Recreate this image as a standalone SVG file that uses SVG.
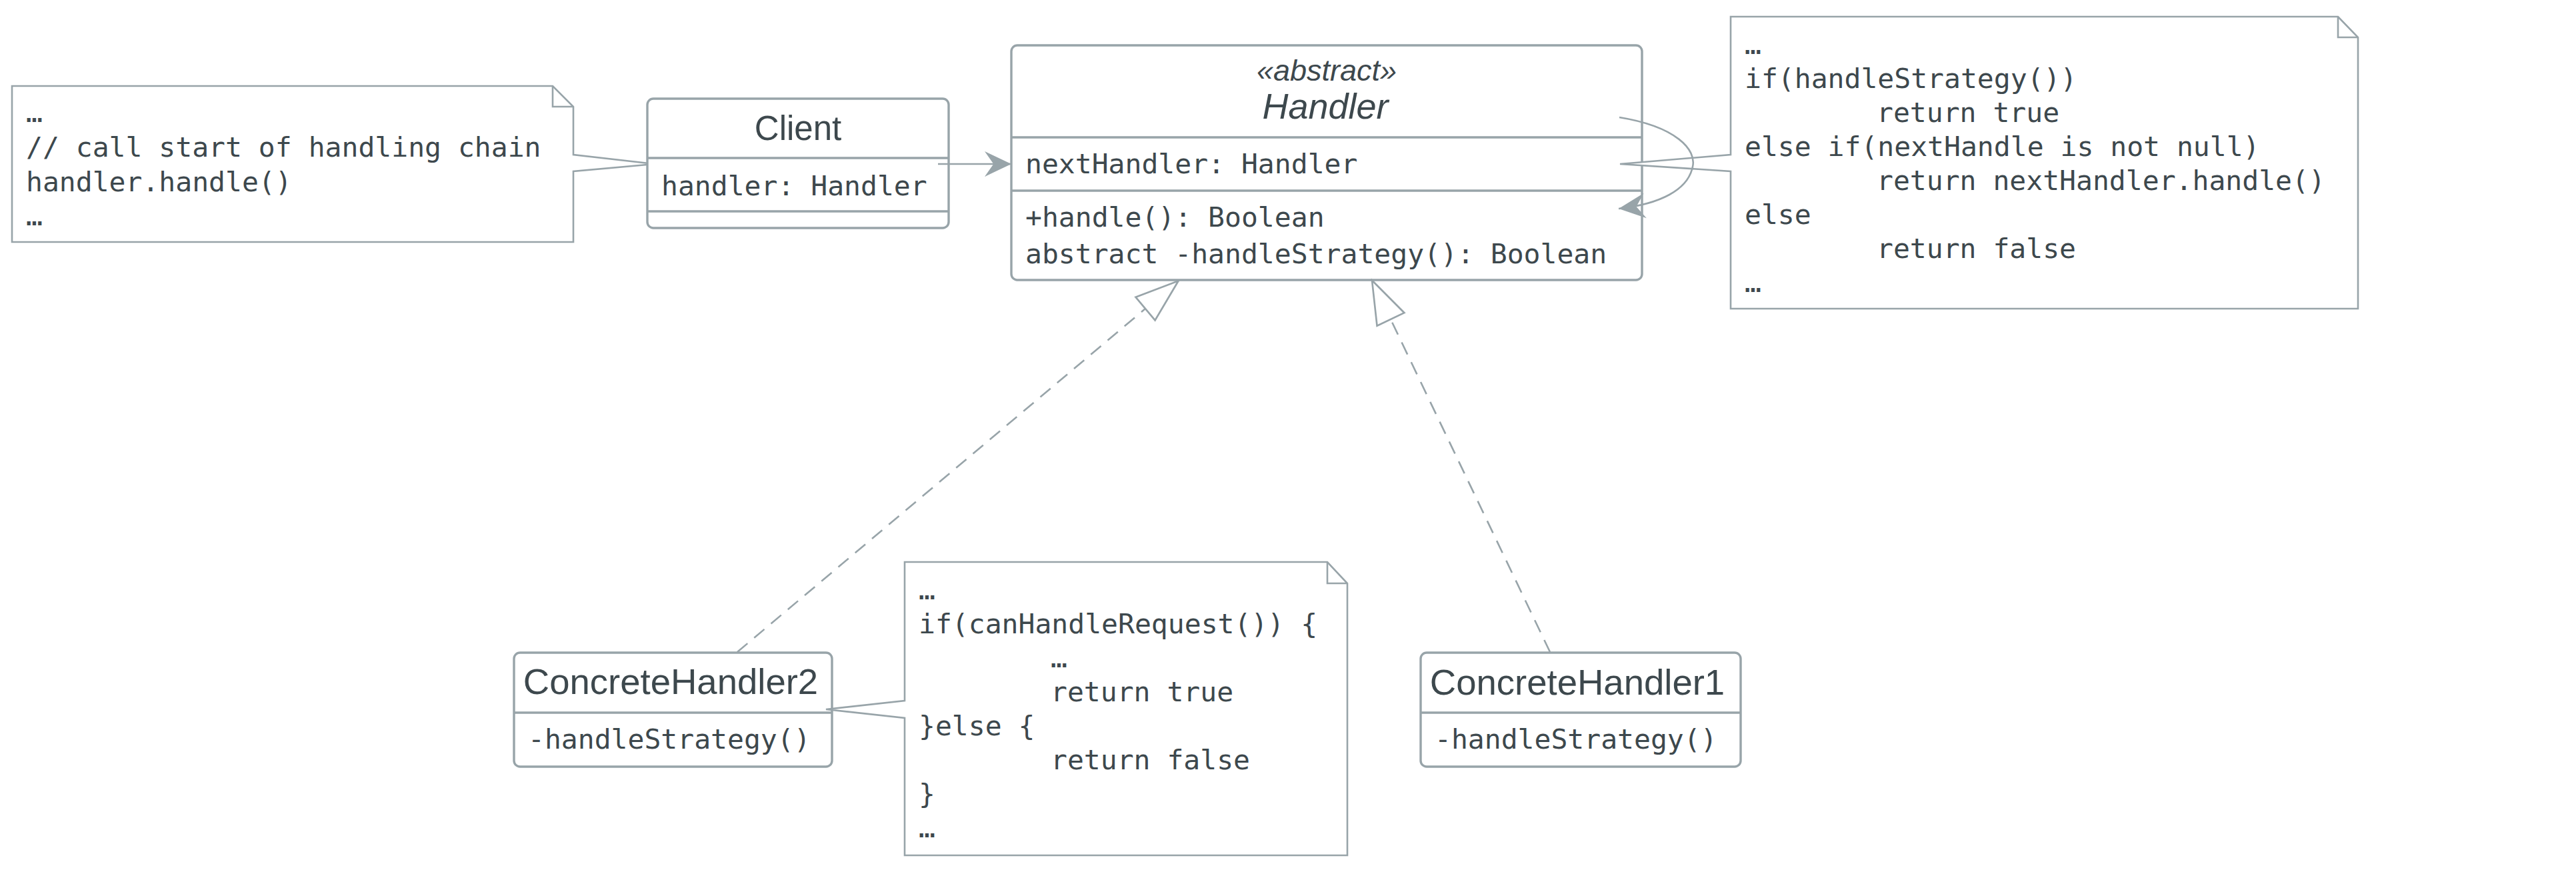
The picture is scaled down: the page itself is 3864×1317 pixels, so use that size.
<svg xmlns="http://www.w3.org/2000/svg" width="3864" height="1317" viewBox="0 0 3864 1317">
<style>
.box{fill:#ffffff;stroke:#98a4a9;stroke-width:3.4}
.div{stroke:#98a4a9;stroke-width:3.4;fill:none}
.note{fill:#ffffff;stroke:#98a4a9;stroke-width:2.6;stroke-linejoin:miter}
.fold{fill:none;stroke:#98a4a9;stroke-width:2.6}
.conn{fill:none;stroke:#98a4a9;stroke-width:2.6}
.dash{stroke-dasharray:20 13}
.mono{font-family:"DejaVu Sans Mono","Liberation Mono",monospace;font-size:41.4px;fill:#3d484d}
.title{font-family:"Liberation Sans",Arial,sans-serif;font-size:51px;fill:#3d484d;text-anchor:middle}
.abs{font-style:italic;font-size:54px}
.big{font-size:54.5px}
.stereo{font-family:"Liberation Sans",Arial,sans-serif;font-size:45px;font-style:italic;fill:#3d484d;text-anchor:middle}
</style>
<defs>
<marker id="arrow" markerUnits="userSpaceOnUse" markerWidth="40" markerHeight="40" viewBox="0 0 36 36" refX="36" refY="18" orient="auto">
<path d="M0,1 L36,18 L0,35 L12,18 Z" fill="#98a4a9"/>
</marker>
<marker id="tri" markerUnits="userSpaceOnUse" markerWidth="70" markerHeight="50" viewBox="-2 -2 68 48" refX="0" refY="22" orient="auto">
<path d="M0,0 L63,22 L0,44 Z" fill="#ffffff" stroke="#98a4a9" stroke-width="2.6"/>
</marker>
</defs>

<g id="note-client">
<path class="note" d="M18,129 L829,129 L860,160 L860,232 L982,246 L860,257 L860,363 L18,363 Z"/>
<path class="fold" d="M829,129 L829,160 L860,160"/>
<text class="mono" x="39" y="183">…</text>
<text class="mono" x="39" y="235">// call start of handling chain</text>
<text class="mono" x="39" y="287">handler.handle()</text>
<text class="mono" x="39" y="338">…</text>
</g>

<g id="client">
<rect class="box" x="971" y="148" width="452" height="194" rx="9"/>
<line class="div" x1="971" y1="237" x2="1423" y2="237"/>
<line class="div" x1="971" y1="317" x2="1423" y2="317"/>
<text class="title" x="1197" y="210">Client</text>
<text class="mono" x="992" y="293">handler: Handler</text>
</g>

<g id="handler">
<rect class="box" x="1517" y="68" width="946" height="352" rx="9"/>
<line class="div" x1="1517" y1="206" x2="2463" y2="206"/>
<line class="div" x1="1517" y1="286" x2="2463" y2="286"/>
<text class="stereo" x="1990" y="121">«abstract»</text>
<text class="title abs" x="1988" y="178">Handler</text>
<text class="mono" x="1538" y="260">nextHandler: Handler</text>
<text class="mono" x="1538" y="340">+handle(): Boolean</text>
<text class="mono" x="1538" y="395">abstract -handleStrategy(): Boolean</text>
</g>

<g id="note-handler">
<path class="note" d="M2596,25 L3507,25 L3537,56 L3537,463 L2596,463 L2596,257 L2430,246 L2596,232 Z"/>
<path class="fold" d="M3507,25 L3507,56 L3537,56"/>
<text class="mono" x="2617" y="81">…</text>
<text class="mono" x="2617" y="132">if(handleStrategy())</text>
<text class="mono" x="2815" y="183">return true</text>
<text class="mono" x="2617" y="234">else if(nextHandle is not null)</text>
<text class="mono" x="2815" y="285">return nextHandler.handle()</text>
<text class="mono" x="2617" y="336">else</text>
<text class="mono" x="2815" y="387">return false</text>
<text class="mono" x="2617" y="438">…</text>
</g>

<g id="concrete-handler2">
<rect class="box" x="771" y="979" width="477" height="171" rx="9"/>
<line class="div" x1="771" y1="1069" x2="1248" y2="1069"/>
<text class="title big" x="1006" y="1041">ConcreteHandler2</text>
<text class="mono" x="792" y="1123">-handleStrategy()</text>
</g>

<g id="note-concrete2">
<path class="note" d="M1357,843 L1991,843 L2021,875 L2021,1283 L1357,1283 L1357,1077 L1239,1064 L1357,1051 Z"/>
<path class="fold" d="M1991,843 L1991,875 L2021,875"/>
<text class="mono" x="1378" y="899">…</text>
<text class="mono" x="1378" y="950">if(canHandleRequest()) {</text>
<text class="mono" x="1576" y="1001">…</text>
<text class="mono" x="1576" y="1052">return true</text>
<text class="mono" x="1378" y="1103">}else {</text>
<text class="mono" x="1576" y="1154">return false</text>
<text class="mono" x="1378" y="1205">}</text>
<text class="mono" x="1378" y="1256">…</text>
</g>

<g id="concrete-handler1">
<rect class="box" x="2131" y="979" width="480" height="171" rx="9"/>
<line class="div" x1="2131" y1="1069" x2="2611" y2="1069"/>
<text class="title big" x="2366" y="1042">ConcreteHandler1</text>
<text class="mono" x="2152" y="1123">-handleStrategy()</text>
</g>

<g id="connectors">
<line class="conn" x1="1407" y1="246" x2="1517" y2="246" marker-end="url(#arrow)"/>
<path class="conn" d="M2429,176 C2515,190 2545,225 2539,250 C2532,285 2490,306 2428,313" marker-end="url(#arrow)"/>
<line class="conn dash" x1="1106" y1="978" x2="1718" y2="463" marker-end="url(#tri)"/>
<line class="conn dash" x1="2325" y1="978" x2="2086" y2="479" marker-end="url(#tri)"/>
</g>
</svg>
